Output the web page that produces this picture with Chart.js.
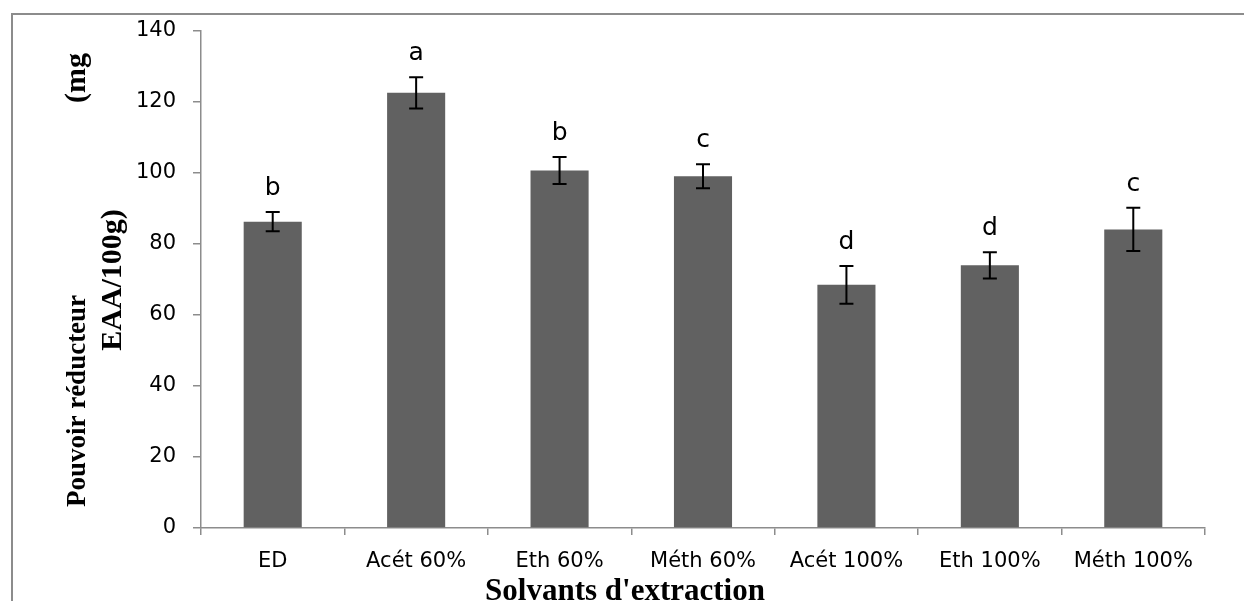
<!DOCTYPE html>
<html lang="fr">
<head>
  <meta charset="UTF-8">
  <title>Pouvoir réducteur - Solvants d'extraction</title>
  <style>
    html, body { margin: 0; padding: 0; background: #fff; }
    .chart-container { position: relative; width: 1244px; height: 601px; }
  </style>
</head>
<body>
  <div class="chart-container">
    <canvas id="chart" width="1244" height="601"></canvas>
  </div>

  <script src="https://cdn.jsdelivr.net/npm/chart.js@4.4.0/dist/chart.umd.min.js"></script>
  <script>
    const CATEGORIES = ['ED', 'Acét 60%', 'Eth 60%', 'Méth 60%', 'Acét 100%', 'Eth 100%', 'Méth 100%'];
    const VALUES = [86.3, 122.6, 100.7, 99.1, 68.5, 74.0, 84.1];
    const ERRORS = [2.7, 4.4, 3.8, 3.4, 5.3, 3.7, 6.1];
    const LETTERS = ['b', 'a', 'b', 'c', 'd', 'd', 'c'];
    const Y_TICKS = [0, 20, 40, 60, 80, 100, 120, 140];

    const AXIS_COLOR = '#8c8c8c';
    const BAR_COLOR = '#616161';
    const SANS = '"DejaVu Sans", sans-serif';
    const SERIF = '"Liberation Serif", "Times New Roman", serif';

    // error bars + letters above them
    const errorBars = {
      id: 'errorBars',
      afterDatasetsDraw(chart) {
        const ctx = chart.ctx;
        const y = chart.scales.y;
        const meta = chart.getDatasetMeta(0);
        ctx.save();
        ctx.strokeStyle = '#000';
        ctx.lineWidth = 2;
        meta.data.forEach((bar, i) => {
          const top = y.getPixelForValue(VALUES[i] + ERRORS[i]);
          const bottom = y.getPixelForValue(VALUES[i] - ERRORS[i]);
          ctx.beginPath();
          ctx.moveTo(bar.x, top);
          ctx.lineTo(bar.x, bottom);
          ctx.moveTo(bar.x - 7, top);
          ctx.lineTo(bar.x + 7, top);
          ctx.moveTo(bar.x - 7, bottom);
          ctx.lineTo(bar.x + 7, bottom);
          ctx.stroke();

          ctx.fillStyle = '#000';
          ctx.font = '25px ' + SANS;
          ctx.textAlign = 'center';
          ctx.textBaseline = 'alphabetic';
          ctx.fillText(LETTERS[i], bar.x, top - 17);
        });
        ctx.restore();
      }
    };

    // frame and axis titles
    const decorations = {
      id: 'decorations',
      afterDraw(chart) {
        const ctx = chart.ctx;
        ctx.save();
        ctx.strokeStyle = AXIS_COLOR;
        ctx.lineWidth = 2;
        ctx.beginPath();
        ctx.moveTo(12, 601);
        ctx.lineTo(12, 14);
        ctx.lineTo(1244, 14);
        ctx.stroke();

        ctx.fillStyle = '#000';
        ctx.textAlign = 'center';
        ctx.textBaseline = 'alphabetic';
        ctx.font = 'bold 31px ' + SERIF;
        ctx.fillText("Solvants d'extraction", 625, 600);

        const rotated = (text, x, y, size) => {
          ctx.save();
          ctx.translate(x, y);
          ctx.rotate(-Math.PI / 2);
          ctx.font = 'bold ' + size + 'px ' + SERIF;
          ctx.fillText(text, 0, 0);
          ctx.restore();
        };
        rotated('Pouvoir réducteur', 85, 401, 27);
        rotated('(mg', 85, 78, 30);
        rotated('EAA/100g)', 121, 280, 30);
        ctx.restore();
      }
    };

    new Chart(document.getElementById('chart'), {
      type: 'bar',
      data: {
        labels: CATEGORIES,
        datasets: [{
          data: VALUES,
          backgroundColor: BAR_COLOR,
          categoryPercentage: 1,
          barPercentage: 0.405
        }]
      },
      plugins: [errorBars, decorations],
      options: {
        responsive: false,
        animation: false,
        devicePixelRatio: 1,
        layout: { padding: { left: 0, right: 39, top: 31, bottom: 0 } },
        plugins: {
          legend: { display: false },
          tooltip: { enabled: false }
        },
        scales: {
          x: {
            offset: true,
            grid: { drawOnChartArea: false, offset: true, tickLength: 7, color: AXIS_COLOR, lineWidth: 1.5 },
            border: { color: AXIS_COLOR, width: 1.5 },
            ticks: { color: '#000', font: { family: SANS, size: 21 }, padding: 14, maxRotation: 0 },
            afterFit(scale) { scale.height = 73; }
          },
          y: {
            min: 0,
            max: 140,
            afterBuildTicks(scale) { scale.ticks = Y_TICKS.map(v => ({ value: v })); },
            grid: { drawOnChartArea: false, tickLength: 8, color: AXIS_COLOR, lineWidth: 1.5 },
            border: { color: AXIS_COLOR, width: 1.5 },
            ticks: { color: '#000', font: { family: SANS, size: 21 }, padding: 17 },
            afterFit(scale) { scale.width = 201; }
          }
        }
      }
    });
  </script>
</body>
</html>
